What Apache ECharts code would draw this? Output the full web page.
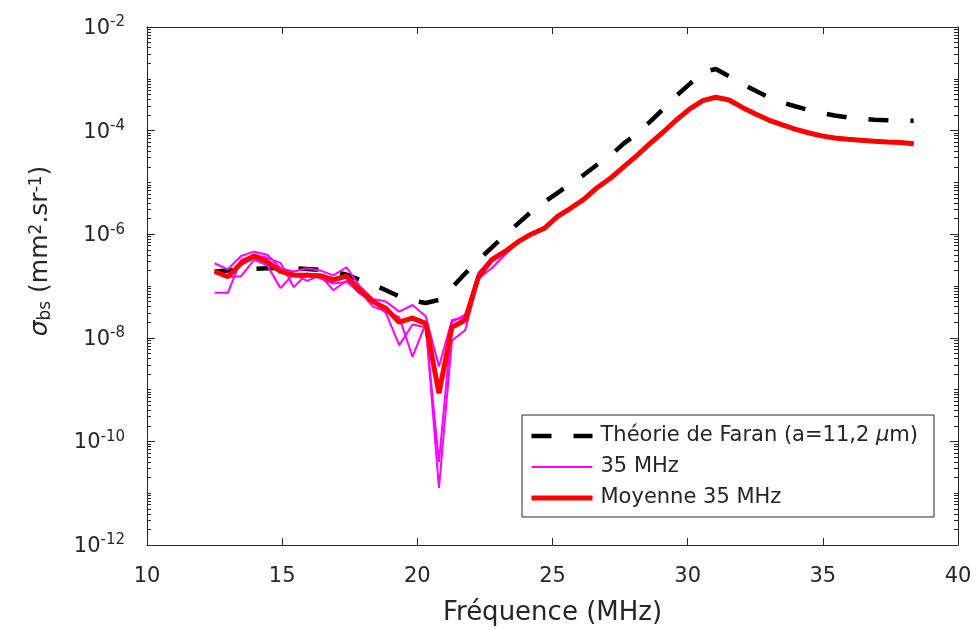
<!DOCTYPE html>
<html><head><meta charset="utf-8">
<script src="https://cdn.jsdelivr.net/npm/echarts@6/dist/echarts.min.js"></script>
<style>html,body{margin:0;padding:0;background:#fff}#c{width:977px;height:630px}</style>
</head><body><div id="c"></div>
<script>
// Frequencies (MHz)
const freq = [12.50,12.99,13.48,13.96,14.45,14.94,15.43,15.92,16.40,16.89,17.38,17.87,18.36,18.84,19.33,19.82,20.31,20.80,21.28,21.77,22.26,22.75,23.24,23.72,24.21,24.70,25.19,25.68,26.16,26.65,27.14,27.63,28.12,28.60,29.09,29.58,30.07,30.56,31.04,31.53,32.02,32.51,33.00,33.48,33.97,34.46,34.95,35.44,35.92,36.41,36.90,37.39,37.88,38.36];
// Théorie de Faran (mm^2.sr^-1)
const theory = [1.9e-7,2.0e-7,2.04e-7,2.14e-7,2.2e-7,2.24e-7,2.2e-7,2.14e-7,2.04e-7,1.9e-7,1.66e-7,1.32e-7,1.07e-7,8.3e-8,6.3e-8,5.2e-8,4.7e-8,5.4e-8,9.3e-8,1.74e-7,3.2e-7,5.5e-7,9.5e-7,1.6e-6,2.7e-6,4.2e-6,6.3e-6,9.5e-6,1.4e-5,2.2e-5,3.3e-5,5.6e-5,8.7e-5,1.48e-4,2.6e-4,4.7e-4,7.9e-4,1.35e-3,1.55e-3,1.12e-3,7.9e-4,5.9e-4,4.4e-4,3.5e-4,2.95e-4,2.5e-4,2.2e-4,1.95e-4,1.8e-4,1.7e-4,1.62e-4,1.58e-4,1.55e-4,1.55e-4];
// 35 MHz individual measurements
const meas1 = [2.75e-7,2.1e-7,3.8e-7,4.6e-7,4.0e-7,2.2e-7,1.9e-7,2.2e-7,2.0e-7,1.6e-7,2.3e-7,1.0e-7,5.6e-8,5.0e-8,3.2e-8,4.3e-8,2.6e-8,2.8e-9,2.2e-8,2.5e-8,1.8e-7,3.5e-7,5.0e-7,7.4e-7,1.05e-6,1.3e-6,2.3e-6,3.2e-6,4.8e-6,8.0e-6,1.2e-5,2.0e-5,3.3e-5,5.7e-5,9.4e-5,1.6e-4,2.6e-4,3.8e-4,4.4e-4,3.9e-4,2.8e-4,2.1e-4,1.6e-4,1.3e-4,1.07e-4,9.2e-5,7.9e-5,7.3e-5,6.8e-5,6.5e-5,6.2e-5,6.0e-5,5.9e-5,5.6e-5];
const meas2 = [1.9e-7,1.5e-7,1.55e-7,3.2e-7,2.5e-7,9.1e-8,1.74e-7,1.26e-7,1.6e-7,8.3e-8,1.26e-7,7.1e-8,5.0e-8,3.0e-8,7.2e-9,1.8e-8,1.6e-8,4.0e-11,2.0e-8,2.8e-8,1.4e-7,2.2e-7,4.0e-7,6.8e-7,0.95e-6,1.3e-6,2.1e-6,3.1e-6,4.6e-6,7.8e-6,1.2e-5,2.0e-5,3.3e-5,5.5e-5,9.2e-5,1.6e-4,2.6e-4,3.8e-4,4.4e-4,3.9e-4,2.8e-4,2.1e-4,1.6e-4,1.3e-4,1.06e-4,9.0e-5,7.9e-5,7.1e-5,6.8e-5,6.5e-5,6.2e-5,6.0e-5,5.9e-5,5.6e-5];
const meas3 = [7.4e-8,7.4e-8,3.2e-7,4.0e-7,3.5e-7,2.8e-7,9.5e-8,1.74e-7,1.4e-7,1.12e-7,1.2e-7,7.9e-8,4.0e-8,3.2e-8,2.5e-8,4.3e-9,1.9e-8,1.26e-11,8.9e-9,1.4e-8,1.3e-7,3.2e-7,4.8e-7,7.1e-7,1.0e-6,1.3e-6,2.2e-6,3.2e-6,4.7e-6,7.9e-6,1.2e-5,2.0e-5,3.3e-5,5.6e-5,9.3e-5,1.6e-4,2.6e-4,3.8e-4,4.4e-4,3.9e-4,2.8e-4,2.1e-4,1.6e-4,1.3e-4,1.07e-4,9.1e-5,7.9e-5,7.2e-5,6.8e-5,6.5e-5,6.2e-5,6.0e-5,5.9e-5,5.6e-5];
// Moyenne 35 MHz
const mean = [1.91e-7,1.51e-7,2.75e-7,3.8e-7,2.95e-7,1.91e-7,1.62e-7,1.62e-7,1.58e-7,1.32e-7,1.55e-7,8.3e-8,5.0e-8,3.7e-8,2.0e-8,2.4e-8,1.9e-8,8.5e-10,1.6e-8,2.2e-8,1.5e-7,3.2e-7,4.6e-7,7.1e-7,1.0e-6,1.3e-6,2.2e-6,3.2e-6,4.7e-6,7.9e-6,1.2e-5,2.0e-5,3.3e-5,5.6e-5,9.3e-5,1.6e-4,2.6e-4,3.8e-4,4.4e-4,3.9e-4,2.8e-4,2.1e-4,1.6e-4,1.3e-4,1.07e-4,9.1e-5,7.9e-5,7.2e-5,6.8e-5,6.5e-5,6.2e-5,6.0e-5,5.9e-5,5.6e-5];

const xMin = 10, xMax = 40, xStep = 5;
const yMinExp = -12, yMaxExp = -2, yLabelStep = 2;
const theoryName = 'Théorie de Faran (a=11,2 μm)';
const measName = '35 MHz';
const meanName = 'Moyenne 35 MHz';

const FONT = 'DejaVu Sans';
const AX = '#262626';

// minor tick positions (log10 space) for the decades
const minorExp = [];
for (let n = yMinExp; n < yMaxExp; n++) for (let k = 1; k <= 9; k++) minorExp.push(n + Math.log10(k));
minorExp.push(yMaxExp);

const pairs = arr => freq.map((f, i) => [f, arr[i]]);

const chart = echarts.init(document.getElementById('c'), null, {renderer: 'canvas'});
const yLabelFmt = v => '{b|10}{s|' + Math.round(Math.log10(v)) + '}';

const option = {
  animation: false,
  backgroundColor: '#fff',
  grid: {left: 147, right: 19, top: 27, bottom: 85, outerBoundsMode: 'none'},
  xAxis: [
    {type: 'value', position: 'bottom', min: xMin, max: xMax, interval: xStep,
     name: 'Fréquence (MHz)', nameLocation: 'middle', nameGap: 55,
     nameTextStyle: {fontFamily: FONT, fontSize: 26, color: AX},
     axisLine: {show: true, lineStyle: {color: AX, width: 1}},
     axisTick: {show: true, inside: true, length: 7, lineStyle: {color: AX}},
     axisLabel: {margin: 21, fontFamily: FONT, fontSize: 21, color: AX},
     splitLine: {show: false}},
    {type: 'value', position: 'top', min: xMin, max: xMax, interval: xStep,
     axisLine: {show: true, lineStyle: {color: AX, width: 1}},
     axisTick: {show: true, inside: true, length: 7, lineStyle: {color: AX}},
     axisLabel: {show: false}, splitLine: {show: false}}
  ],
  yAxis: [
    {type: 'log', logBase: 10, position: 'left', min: Math.pow(10, yMinExp), max: Math.pow(10, yMaxExp), interval: yLabelStep,
     name: '{s|σ}{sub|bs}{n| (mm}{sup|2}{n|.sr}{sup|-1}{n|)}', nameLocation: 'middle', nameGap: 89,
     nameTextStyle: {fontFamily: FONT, fontSize: 25, color: AX, padding: [0, 0, 0, 70],
       rich: {
         s: {fontFamily: FONT, fontSize: 25, fontStyle: 'italic', color: AX, lineHeight: 26, verticalAlign: 'middle'},
         n: {fontFamily: FONT, fontSize: 25, color: AX, lineHeight: 26, verticalAlign: 'middle'},
         sub: {fontFamily: FONT, fontSize: 17, color: AX, lineHeight: 18, padding: [18, 0, 0, 0], verticalAlign: 'bottom'},
         sup: {fontFamily: FONT, fontSize: 17, color: AX, lineHeight: 18, padding: [0, 0, 18, 0], verticalAlign: 'top'}
       }},
     axisLine: {show: true, lineStyle: {color: AX, width: 1}},
     axisTick: {show: true, inside: true, length: 8, lineStyle: {color: AX}},
     axisLabel: {margin: 22, formatter: yLabelFmt, color: AX,
       rich: {
         b: {fontFamily: FONT, fontSize: 21, color: AX, lineHeight: 24, verticalAlign: 'bottom'},
         s: {fontFamily: FONT, fontSize: 15, color: AX, lineHeight: 16, padding: [0, 0, 12, 0], verticalAlign: 'top'}
       }},
     splitLine: {show: false}, minorTick: {show: false}},
    {type: 'log', logBase: 10, position: 'right', min: Math.pow(10, yMinExp), max: Math.pow(10, yMaxExp), interval: yLabelStep,
     axisLine: {show: true, lineStyle: {color: AX, width: 1}},
     axisTick: {show: true, inside: true, length: 8, lineStyle: {color: AX}},
     axisLabel: {show: false}, splitLine: {show: false}},
    {type: 'value', position: 'left', min: yMinExp, max: yMaxExp,
     axisLine: {show: false}, axisLabel: {show: false}, splitLine: {show: false},
     axisTick: {show: true, inside: true, length: 4, customValues: minorExp, lineStyle: {color: AX}}},
    {type: 'value', position: 'right', min: yMinExp, max: yMaxExp,
     axisLine: {show: false}, axisLabel: {show: false}, splitLine: {show: false},
     axisTick: {show: true, inside: true, length: 4, customValues: minorExp, lineStyle: {color: AX}}}
  ],
  legend: {
    data: [theoryName, measName, meanName],
    orient: 'vertical', left: 522, top: 415,
    padding: [10, 16, 8, 7], itemGap: 9, itemWidth: 61, itemHeight: 14,
    backgroundColor: '#fff', borderColor: AX, borderWidth: 1, borderRadius: 0,
    lineStyle: {width: 'inherit'},
    itemStyle: {color: 'rgba(0,0,0,0)', borderWidth: 0, opacity: 0},
    textStyle: {fontFamily: FONT, fontSize: 21, color: AX, lineHeight: 22, padding: [0, 0, 0, 3],
      rich: {i: {fontFamily: FONT, fontSize: 21, fontStyle: 'italic', color: AX, lineHeight: 22}}},
    formatter: n => n === theoryName ? 'Théorie de Faran (a=11,2 {i|μ}m)' : n
  },
  series: [
    {name: theoryName, type: 'line', xAxisIndex: 0, yAxisIndex: 0, data: pairs(theory), symbol: 'none', showSymbol: false,
     itemStyle: {color: '#000'}, lineStyle: {color: '#000', width: 4.5, type: [20, 22], cap: 'butt'}, z: 2},
    {name: measName, type: 'line', xAxisIndex: 0, yAxisIndex: 0, data: pairs(meas1), symbol: 'none', showSymbol: false,
     itemStyle: {color: '#FF00FF'}, lineStyle: {color: '#FF00FF', width: 2}, z: 3},
    {name: measName, type: 'line', xAxisIndex: 0, yAxisIndex: 0, data: pairs(meas2), symbol: 'none', showSymbol: false,
     itemStyle: {color: '#FF00FF'}, lineStyle: {color: '#FF00FF', width: 2}, z: 3},
    {name: measName, type: 'line', xAxisIndex: 0, yAxisIndex: 0, data: pairs(meas3), symbol: 'none', showSymbol: false,
     itemStyle: {color: '#FF00FF'}, lineStyle: {color: '#FF00FF', width: 2}, z: 3},
    {name: meanName, type: 'line', xAxisIndex: 0, yAxisIndex: 0, data: pairs(mean), symbol: 'none', showSymbol: false,
     itemStyle: {color: '#FF0000'}, lineStyle: {color: '#FF0000', width: 5}, z: 4}
  ]
};
chart.setOption(option);
</script>
</body></html>
